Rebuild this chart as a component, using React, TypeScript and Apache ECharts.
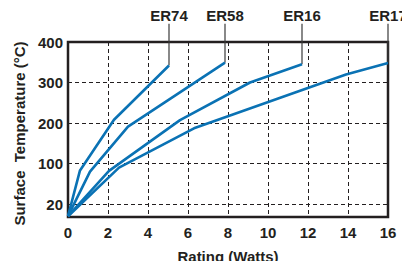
import React, { useEffect, useRef } from "react";
import * as echarts from "echarts";

// Series (Rating in Watts, Surface temperature on the chart's axis scale)
const seriesNames = ["ER74", "ER58", "ER16", "ER17"];
const er74Watts = [0, 0.6, 2.3, 5.05];
const er74Temp = [-30, 83, 208, 342];
const er58Watts = [0, 1.1, 3.0, 7.85];
const er58Temp = [-30, 80, 191, 349];
const er16Watts = [0, 2.05, 5.6, 9.1, 11.7];
const er16Temp = [-30, 82, 207, 300, 345];
const er17Watts = [0, 2.55, 6.3, 13.9, 16];
const er17Temp = [-30, 90, 187, 320, 348];

// Axis ticks
const xMin = 0;
const xMax = 16;
const xInterval = 2;
const yMin = -32;
const yMax = 400;
const yTickValues = [0, 100, 200, 300, 400];
const yTickLabels = ["20", "100", "200", "300", "400"];
const leaderTop = 445;

const INK = "#231f20";
const BLUE = "#0a72b4";
const FONT = "'Liberation Sans', Arial, Helvetica, sans-serif";

const allWatts = [er74Watts, er58Watts, er16Watts, er17Watts];
const allTemp = [er74Temp, er58Temp, er16Temp, er17Temp];

export default function App() {
  const ref = useRef<HTMLDivElement>(null);
  useEffect(() => {
    if (!ref.current) return;
    const chart = echarts.init(ref.current, undefined, { renderer: "svg" });
    const lines = seriesNames.map((name, i) => ({
      name,
      type: "line",
      data: allWatts[i].map((w, j) => [w, allTemp[i][j]]),
      symbol: "none",
      lineStyle: { color: BLUE, width: 2.6 },
      z: 4,
    }));
    const leaders = seriesNames.map((name, i) => {
      const w = allWatts[i];
      const t = allTemp[i];
      const xe = w[w.length - 1];
      const ye = t[t.length - 1];
      return {
        name: name + "-leader",
        type: "line",
        clip: false,
        symbol: "circle",
        symbolSize: 0,
        showSymbol: true,
        lineStyle: { color: "#3a3a3a", width: 1.2 },
        itemStyle: { color: "#3a3a3a" },
        label: { show: false },
        z: 3,
        data: [
          [xe, ye],
          {
            value: [xe, leaderTop],
            label: {
              show: true,
              position: "top",
              distance: 1,
              formatter: name,
              fontSize: 15,
              fontWeight: "bold",
              fontFamily: FONT,
              color: INK,
            },
          },
        ],
      };
    });
    chart.setOption({
      animation: false,
      grid: {
        left: 68,
        right: 22,
        top: 42,
        bottom: 48,
        show: true,
        borderColor: INK,
        borderWidth: 2.5,
      },
      xAxis: {
        type: "value",
        min: xMin,
        max: xMax,
        interval: xInterval,
        name: "Rating (Watts)",
        nameLocation: "middle",
        nameGap: 32,
        nameTextStyle: { fontSize: 15, fontWeight: "bold", fontFamily: FONT, color: INK },
        axisLine: { show: false },
        axisTick: { show: false },
        axisLabel: { fontSize: 15, fontWeight: "bold", fontFamily: FONT, color: INK, margin: 8 },
        splitLine: { show: true, lineStyle: { type: [4, 3], color: INK, width: 1 } },
      },
      yAxis: {
        type: "value",
        min: yMin,
        max: yMax,
        name: "Surface  Temperature (°C)",
        nameLocation: "middle",
        nameGap: 40,
        nameRotate: 90,
        nameTextStyle: {
          fontSize: 15,
          fontWeight: "bold",
          fontFamily: FONT,
          color: INK,
          padding: [0, 8, 0, 0],
        },
        axisLine: { show: false },
        axisTick: { show: false, customValues: yTickValues },
        axisLabel: {
          customValues: yTickValues,
          fontSize: 15,
          fontWeight: "bold",
          fontFamily: FONT,
          color: INK,
          margin: 5,
          formatter: (v: number) => {
            const k = yTickValues.indexOf(v);
            return k >= 0 ? yTickLabels[k] : "";
          },
        },
        splitLine: { show: true, lineStyle: { type: [4, 3], color: INK, width: 1 } },
      },
      series: [...leaders, ...lines],
    });
    return () => chart.dispose();
  }, []);
  return <div ref={ref} style={{ width: 410, height: 269, margin: -8 }} />;
}
